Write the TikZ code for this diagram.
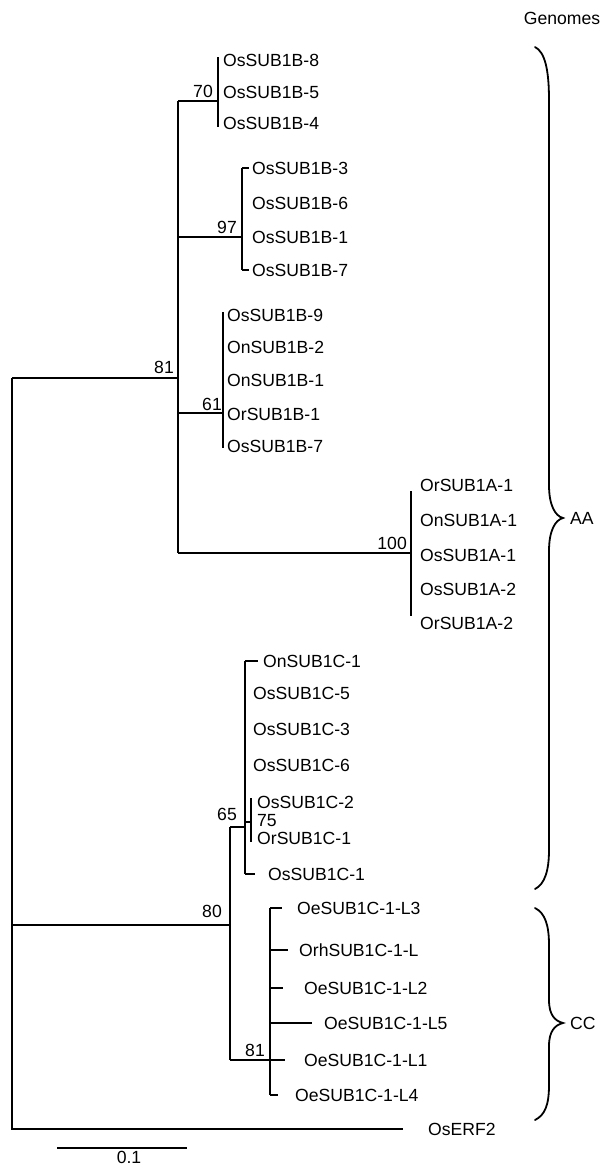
\documentclass[tikz,border=0pt]{standalone}
\usepackage{fontspec}
\setmainfont{Liberation Sans}
\begin{document}
\begin{tikzpicture}[x=1pt,y=-1pt,
  br/.style={line width=1.1pt},
  brace/.style={line width=1.8pt,line cap=round},
  leaf/.style={anchor=west,inner sep=0pt,font=\fontsize{17.6}{20}\selectfont},
  boot/.style={anchor=east,inner sep=0pt,font=\fontsize{17.6}{20}\selectfont},
  lbl/.style={inner sep=0pt,font=\fontsize{17.6}{20}\selectfont}]
\useasboundingbox (0,0) rectangle (604,1167);
% inner nodes
\coordinate (root) at (12,378);
\coordinate (nAA) at (178,378);
\coordinate (n70) at (218,101);
\coordinate (n97) at (242,237);
\coordinate (n61) at (223,413);
\coordinate (n100) at (411,553);
\coordinate (n80) at (230,925);
\coordinate (n65) at (245,827);
\coordinate (n75) at (251,822);
\coordinate (nCC) at (270,1060);
\coordinate (erf) at (403,1129);
% leaves
\node[leaf] (b8) at (223,60) {OsSUB1B-8};
\node[leaf] (b5) at (223,92) {OsSUB1B-5};
\node[leaf] (b4) at (223,123) {OsSUB1B-4};
\node[leaf] (b3) at (252,168) {OsSUB1B-3};
\node[leaf] (b6) at (252,203) {OsSUB1B-6};
\node[leaf] (b1) at (252,237) {OsSUB1B-1};
\node[leaf] (b7) at (252,270) {OsSUB1B-7};
\node[leaf] (b9) at (227,315) {OsSUB1B-9};
\node[leaf] (nb2) at (227,347) {OnSUB1B-2};
\node[leaf] (nb1) at (227,380) {OnSUB1B-1};
\node[leaf] (rb1) at (227,414) {OrSUB1B-1};
\node[leaf] (b7b) at (227,446) {OsSUB1B-7};
\node[leaf] (ra1) at (420,485) {OrSUB1A-1};
\node[leaf] (na1) at (420,520) {OnSUB1A-1};
\node[leaf] (sa1) at (420,555) {OsSUB1A-1};
\node[leaf] (sa2) at (420,589) {OsSUB1A-2};
\node[leaf] (ra2) at (420,623) {OrSUB1A-2};
\node[leaf] (nc1) at (263,661) {OnSUB1C-1};
\node[leaf] (c5) at (253,693) {OsSUB1C-5};
\node[leaf] (c3) at (253,729) {OsSUB1C-3};
\node[leaf] (c6) at (253,765) {OsSUB1C-6};
\node[leaf] (c2) at (257,802) {OsSUB1C-2};
\node[leaf] (rc1) at (257,838) {OrSUB1C-1};
\node[leaf] (c1) at (268,874) {OsSUB1C-1};
\node[leaf] (l3) at (297,908) {OeSUB1C-1-L3};
\node[leaf] (rh) at (299,950) {OrhSUB1C-1-L};
\node[leaf] (l2) at (304,988) {OeSUB1C-1-L2};
\node[leaf] (l5) at (324,1023) {OeSUB1C-1-L5};
\node[leaf] (l1) at (304,1060) {OeSUB1C-1-L1};
\node[leaf] (l4) at (295,1095) {OeSUB1C-1-L4};
\node[leaf] (erf2) at (428,1129) {OsERF2};
% bootstrap values
\node[boot] (v81a) at (174,367) {81};
\node[boot] (v70) at (213,91) {70};
\node[boot] (v97) at (237,227) {97};
\node[boot] (v61) at (222,404) {61};
\node[boot] (v100) at (407,543) {100};
\node[boot] (v65) at (237,814) {65};
\node[leaf] (v75) at (257,821) {75};
\node[boot] (v80) at (222,911) {80};
\node[boot] (v81b) at (265,1050) {81};
% branches
\draw[br] (root) -- (root |- erf) -- (erf);
\draw[br] (root) -- (nAA);
\draw[br] (root |- n80) -- (n80);
\draw[br] (nAA |- n70) -- (nAA |- n100);
\draw[br] (nAA |- n70) -- (n70);
\draw[br] (nAA |- n97) -- (n97);
\draw[br] (nAA |- n61) -- (n61);
\draw[br] (nAA |- n100) -- (n100);
\draw[br] (218,57) -- (218,127);
\draw[br] (n97 |- b3) -- (n97 |- b7);
\draw[br] (n97 |- b3) -- (249,168);
\draw[br] (n97 |- b7) -- (249,270);
\draw[br] (223,312) -- (223,448);
\draw[br] (411,491) -- (411,616);
\draw[br] (n80 |- n65) -- (n80 |- nCC);
\draw[br] (n80 |- n65) -- (n65);
\draw[br] (n80 |- nCC) -- (nCC);
\draw[br] (n65 |- nc1) -- (n65 |- c1);
\draw[br] (n65 |- nc1) -- (258,661);
\draw[br] (n65 |- c1) -- (255,874);
\draw[br] (n65 |- n75) -- (n75);
\draw[br] (251,798) -- (251,842);
\draw[br] (nCC |- l3) -- (nCC |- l4);
\draw[br] (nCC |- l3) -- (282,908);
\draw[br] (nCC |- rh) -- (288,950);
\draw[br] (nCC |- l2) -- (283,988);
\draw[br] (nCC |- l5) -- (312,1023);
\draw[br] (nCC) -- (285,1060);
\draw[br] (nCC |- l4) -- (278,1095);
% scale bar
\coordinate (sbL) at (57,1148);
\coordinate (sbR) at (187,1148);
\draw[br] (sbL) -- (sbR);
\node[lbl] (sbt) at (129,1157) {0.1};
% genomes and braces
\node[lbl] (gen) at (562,18) {Genomes};
\draw[brace] (535,47) .. controls (545,52) and (549,70) .. (549,100) -- (549,485)
  .. controls (549,505) and (555,516) .. (563,518)
  .. controls (555,520) and (549,531) .. (549,551) -- (549,850)
  .. controls (549,870) and (545,884) .. (535,889);
\node[lbl,anchor=west] (aa) at (570,518) {AA};
\draw[brace] (535,908) .. controls (545,913) and (549,925) .. (549,945) -- (549,1000)
  .. controls (549,1015) and (555,1021) .. (563,1023)
  .. controls (555,1025) and (549,1031) .. (549,1046) -- (549,1085)
  .. controls (549,1105) and (545,1115) .. (535,1120);
\node[lbl,anchor=west] (cc) at (570,1023) {CC};
\end{tikzpicture}
\end{document}
